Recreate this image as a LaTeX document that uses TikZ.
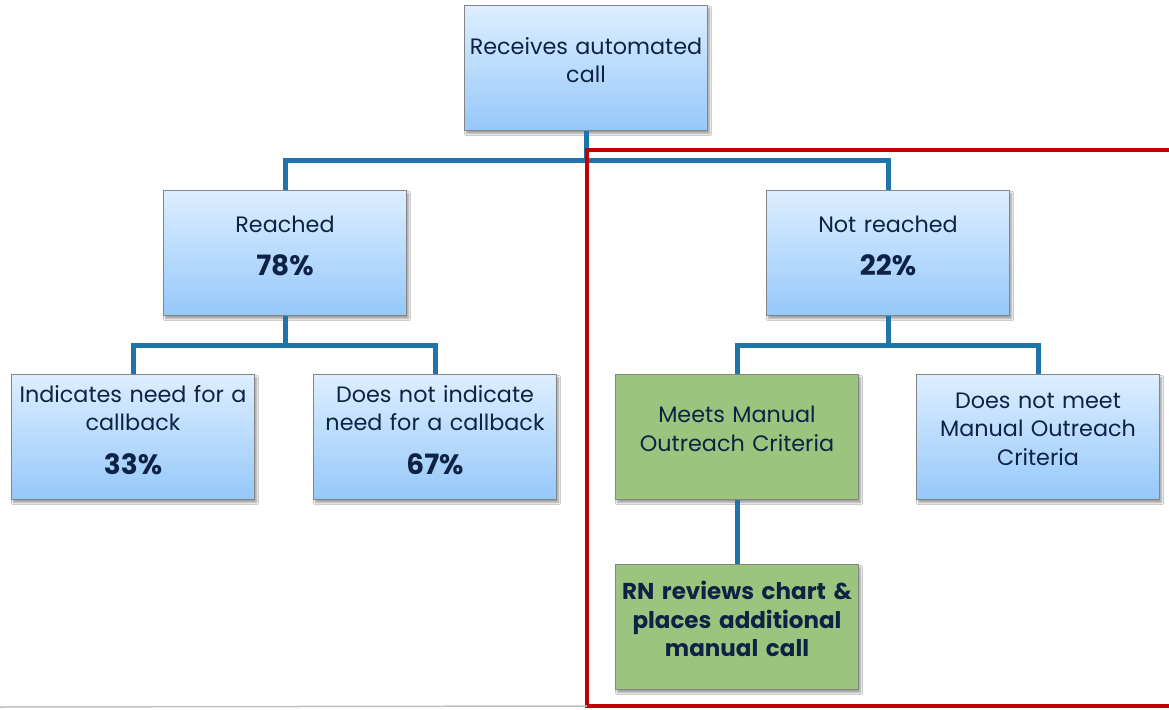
\documentclass[tikz,border=0pt]{standalone}
\usepackage{fontspec}
\setmainfont{Poppins}
\usetikzlibrary{shadows.blur}
\definecolor{ink}{HTML}{0E2244}
\definecolor{wire}{HTML}{1F75AA}
\definecolor{frame}{HTML}{C00000}
\definecolor{boxedge}{HTML}{858585}
\definecolor{skytop}{HTML}{DDEEFF}
\definecolor{skybot}{HTML}{95C8FA}
\definecolor{leaf}{HTML}{9BC47E}
\newcommand\pctfont{\fontsize{28}{28}\selectfont\bfseries}
\tikzset{
  x=1pt, y=-1pt,
  card/.style={draw=boxedge, line width=1pt, minimum width=243pt, minimum height=125pt,
    inner sep=0pt, blur shadow={shadow xshift=2pt, shadow yshift=-3pt, shadow blur steps=6, shadow opacity=40}},
  bluecard/.style={card, top color=skytop, bottom color=skybot},
  greencard/.style={card, fill=leaf},
  boxtext/.style={text=ink, align=center, text width=240pt, font=\fontsize{22.3}{28.5}\selectfont},
  wireline/.style={draw=wire, line width=5pt},
  framel/.style={draw=frame, line width=3.5pt}
}
\begin{document}
\begin{tikzpicture}
\useasboundingbox (0,0) rectangle (1169,709);
\fill[white] (0,0) rectangle (1169,709);

% junction points of the tree
\coordinate (j0) at (586,160);
\coordinate (j1) at (285,345);
\coordinate (j2) at (888,345);

\node[bluecard] (top) at (586,68) {};
\node[bluecard] (reach) at (285,253) {};
\node[bluecard] (nreach) at (888,253) {};
\node[bluecard] (ind) at (133,437) {};
\node[bluecard] (nind) at (435,437) {};
\node[greencard] (meet) at (737,437) {};
\node[bluecard] (nmeet) at (1038,437) {};
\node[greencard] (rn) at (737,627) {};

% connectors
\draw[wireline] (top.south) -- (j0);
\draw[wireline] (reach.north) |- (j0) -| (nreach.north);
\draw[wireline] (reach.south) -- (j1);
\draw[wireline] (ind.north) |- (j1) -| (nind.north);
\draw[wireline] (nreach.south) -- (j2);
\draw[wireline] (meet.north) |- (j2) -| (nmeet.north);
\draw[wireline] (meet.south) -- (rn.north);

% red outline around the not-reached branch
\coordinate (fa) at (1169,150);
\coordinate (fb) at (587,150);
\coordinate (fc) at (587,706);
\coordinate (fd) at (1169,706);
\draw[framel] (fa) -- (fb) -- (fc) -- (fd);
\coordinate (ga) at (0,707);
\draw[gray!50, line width=1.5pt] (ga) -- (fc);

% texts
\node[boxtext] (ttop) at (586,60) {Receives automated\\call};
\node[boxtext] (treach) at (285,246) {Reached\\[15pt]{\pctfont 78\%}};
\node[boxtext] (tnreach) at (888,246) {Not reached\\[15pt]{\pctfont 22\%}};
\node[boxtext] (tind) at (133,430) {Indicates need for a\\callback\\[15pt]{\pctfont 33\%}};
\node[boxtext] (tnind) at (435,430) {Does not indicate\\need for a callback\\[15pt]{\pctfont 67\%}};
\node[boxtext] (tmeet) at (737,429) {Meets Manual\\Outreach Criteria};
\node[boxtext] (tnmeet) at (1038,429) {Does not meet\\Manual Outreach\\Criteria};
\node[boxtext, font=\fontsize{23}{28.5}\selectfont\bfseries] (trn) at (737,619) {RN reviews chart \&\\places additional\\manual call};
\end{tikzpicture}
\end{document}
